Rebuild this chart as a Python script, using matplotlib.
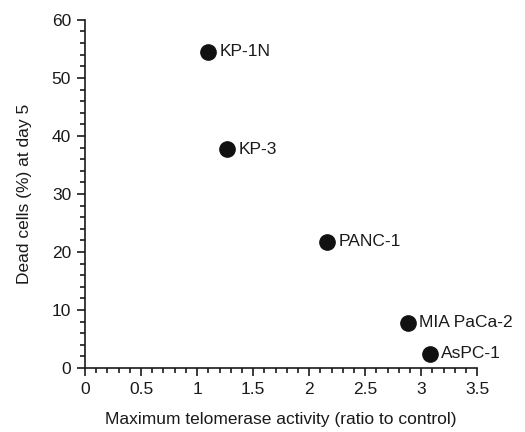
import matplotlib.pyplot as plt
from matplotlib.ticker import MultipleLocator

plt.rcParams['font.family'] = ['Liberation Sans', 'DejaVu Sans']

cell_lines = ["KP-1N", "KP-3", "PANC-1", "MIA PaCa-2", "AsPC-1"]
telomerase = [1.10, 1.27, 2.16, 2.88, 3.08]
dead_cells = [54.5, 37.7, 21.8, 7.8, 2.5]

fig = plt.figure(figsize=(5.25, 4.32), dpi=100)
ax = fig.add_axes([0.162, 0.148, 0.747, 0.806])

ax.plot(telomerase, dead_cells, 'o', color='#111111', markersize=11, clip_on=False)
for name, x, y in zip(cell_lines, telomerase, dead_cells):
    ax.annotate(name, (x, y), xytext=(8, 0), textcoords='offset points',
                va='center', ha='left', fontsize=12.5, color='#1a1a1a')

ax.set_xlim(0, 3.5)
ax.set_ylim(0, 60)
ax.xaxis.set_major_locator(MultipleLocator(0.5))
ax.xaxis.set_minor_locator(MultipleLocator(0.1))
ax.yaxis.set_major_locator(MultipleLocator(10))
ax.yaxis.set_minor_locator(MultipleLocator(2))
ax.xaxis.set_major_formatter(plt.FuncFormatter(lambda v, p: f"{v:g}"))

for s in ['top', 'right']:
    ax.spines[s].set_visible(False)
for s in ['left', 'bottom']:
    ax.spines[s].set_linewidth(1.2)
    ax.spines[s].set_color('#1a1a1a')

ax.tick_params(which='major', direction='out', length=6, width=1.2, labelsize=12.5,
               colors='#1a1a1a', pad=4)
ax.tick_params(which='minor', direction='out', length=3.5, width=1.2, colors='#1a1a1a')

ax.set_xlabel("Maximum telomerase activity (ratio to control)", fontsize=12.5,
              color='#1a1a1a', labelpad=11)
ax.set_ylabel("Dead cells (%) at day 5", fontsize=12.5, color='#1a1a1a', labelpad=14)

fig.savefig("out.png", dpi=100)
